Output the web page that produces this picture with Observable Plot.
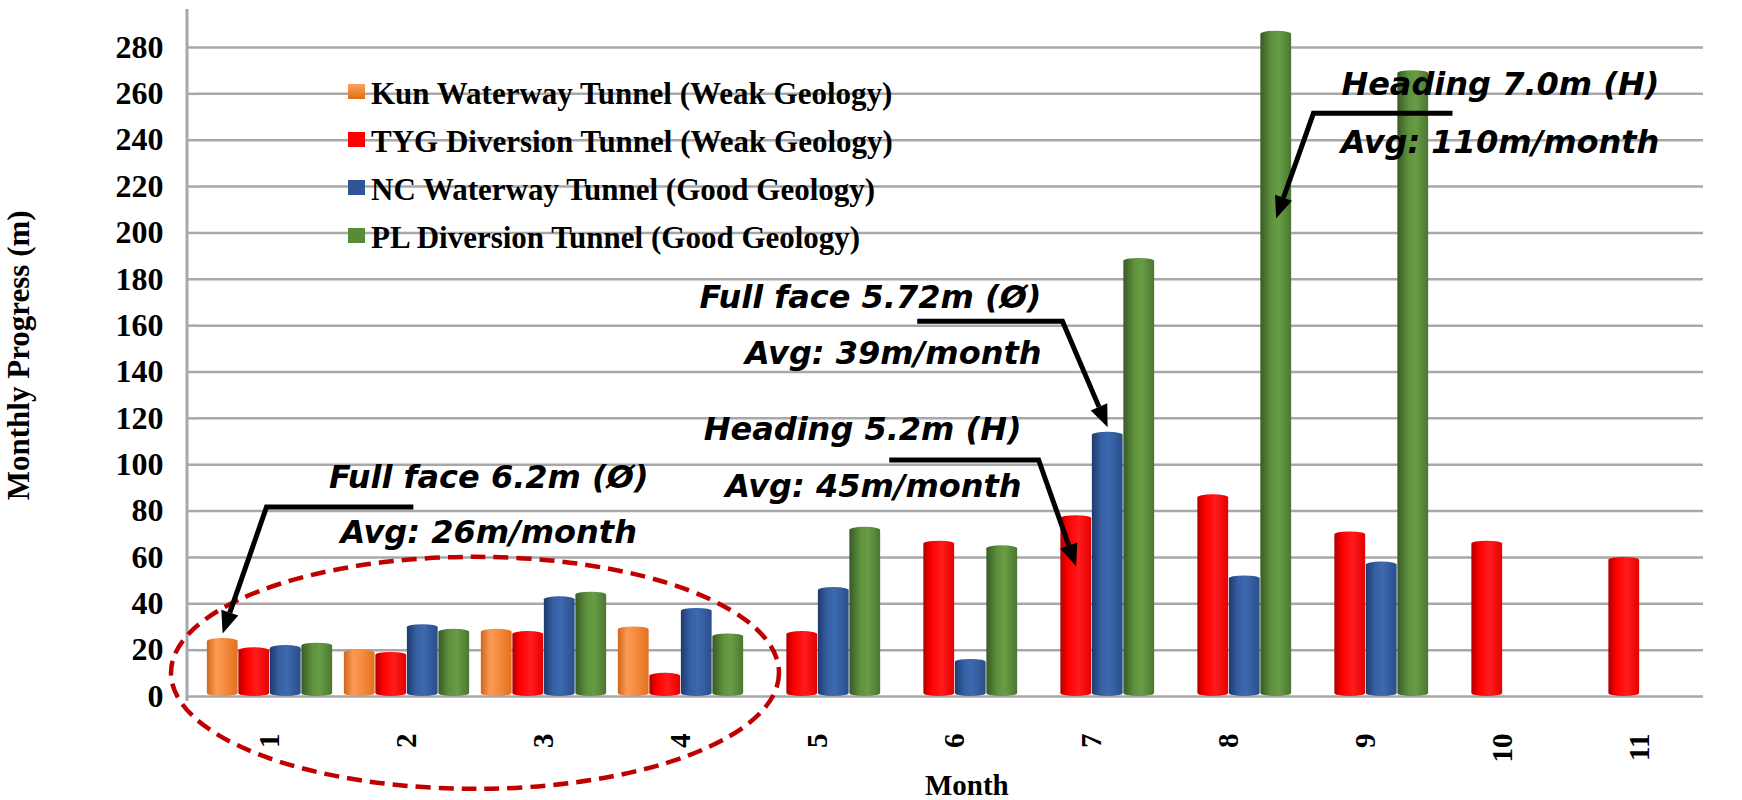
<!DOCTYPE html>
<html>
<head>
<meta charset="utf-8">
<script src="https://cdn.jsdelivr.net/npm/d3@7"></script>
<script src="https://cdn.jsdelivr.net/npm/@observablehq/plot@0.6"></script>
<style>
  html, body { margin: 0; padding: 0; background: #fff; }
  svg { display: block; }
</style>
</head>
<body>
<div id="chart"></div>
<script>
// ---------------- DATA ----------------
const months = [1, 2, 3, 4, 5, 6, 7, 8, 9, 10, 11];
const seriesNames = [
  "Kun Waterway Tunnel (Weak Geology)",
  "TYG Diversion Tunnel (Weak Geology)",
  "NC Waterway Tunnel (Good Geology)",
  "PL Diversion Tunnel (Good Geology)"
];
const kunValues = [25, 20, 29, 30, null, null, null, null, null, null, null];
const tygValues = [21, 19, 28, 10, 28, 67, 78, 87, 71, 67, 60];
const ncValues  = [22, 31, 43, 38, 47, 16, 114, 52, 58, null, null];
const plValues  = [23, 29, 45, 27, 73, 65, 189, 287, 270, null, null];
const yTicks = [0, 20, 40, 60, 80, 100, 120, 140, 160, 180, 200, 220, 240, 260, 280];
const xTitle = "Month";
const yTitle = "Monthly Progress (m)";

// annotations: text lines, the bar they point at, and anchor values (data units)
const annoLine1 = ["Full face 6.2m (Ø)", "Full face 5.72m (Ø)", "Heading 5.2m (H)", "Heading 7.0m (H)"];
const annoLine2 = ["Avg: 26m/month", "Avg: 39m/month", "Avg: 45m/month", "Avg: 110m/month"];
const annoTargetMonth = [1, 7, 7, 8];
const annoTargetSeries = [0, 2, 1, 3];
const annoTipValue = [27, 116, 56, 206];
const annoTextMonth = [2.60, 6.635, 6.49, 11.145];
const annoLine1Value = [89.7, 167.3, 110.4, 259.2];
const annoLine2Value = [66, 143.2, 85.8, 234.2];
const annoElbowMonth = [0.978, 6.788, 6.614, 8.62];
const annoLeaderEndMonth = [2.05, 5.728, 5.524, 9.635];
const annoLeaderValue = [81.5, 161.7, 101.8, 251.4];
const circledMonths = [1, 4];

// ---------------- STYLE ----------------
const seriesSwatch = ["#F58A3A", "#FF0000", "#2F5597", "#568B38"];
const seriesGradients = [
  [["0%", "#D2661C"], ["30%", "#FA9A55"], ["60%", "#F68B3E"], ["100%", "#E0711F"]],
  [["0%", "#B00000"], ["25%", "#FF0000"], ["60%", "#FF1C1C"], ["100%", "#E60000"]],
  [["0%", "#1E3A6C"], ["30%", "#3660A4"], ["55%", "#3D69AF"], ["100%", "#2A4E8B"]],
  [["0%", "#385A25"], ["35%", "#5D913C"], ["60%", "#689D46"], ["100%", "#4B7631"]]
];
const W = 1742, H = 800, ML = 197, MR = 30, MT = 47, MB = 104;
const serif = "'Liberation Serif', 'Times New Roman', serif";
const sans = "'DejaVu Sans', Verdana, sans-serif";

// ---------------- BUILD ----------------
const seriesValues = [kunValues, tygValues, ncValues, plValues];
const rows = [];
seriesValues.forEach((vals, i) => vals.forEach((v, j) => {
  if (v != null) rows.push({month: months[j], series: seriesNames[i], value: v});
}));

const step = (W - ML - MR) / months.length;
const groupW = step * 0.915;
const barW = groupW / seriesNames.length;
const pad0 = (step - groupW) / 2;

const chart = Plot.plot({
  width: W,
  height: H,
  marginLeft: ML,
  marginRight: MR,
  marginTop: MT,
  marginBottom: MB,
  style: {fontFamily: serif, background: "#fff", overflow: "visible"},
  x: {type: "band", domain: months, padding: 0, label: null},
  y: {domain: [0, 280], label: null},
  marks: [
    Plot.gridY(yTicks, {stroke: "#a8a8a8", strokeOpacity: 1, strokeWidth: 2.5, insetRight: 9}),
    ...seriesNames.map((name, i) => Plot.barY(rows.filter(d => d.series === name), {
      x: "month",
      y: "value",
      fill: `url(#grad${i})`,
      rx: barW / 2 - 1,
      ry: 3,
      insetLeft: pad0 + i * barW,
      insetRight: step - pad0 - (i + 1) * barW
    })),
    Plot.axisY(yTicks, {
      tickSize: 10, tickPadding: 24, stroke: "#a8a8a8", strokeWidth: 2.5,
      fontSize: 32, fontWeight: "bold", fill: "#000", label: null
    }),
    Plot.axisX({
      tickRotate: -90, tickSize: 0, tickPadding: 37,
      fontSize: 29, fontWeight: "bold", fill: "#000", label: null
    })
  ]
});

document.getElementById("chart").appendChild(chart);

const svg = d3.select(chart);
const xs = chart.scale("x");
const ys = chart.scale("y");
const bw = xs.bandwidth;
const xMonth = m => xs.apply(1) + bw / 2 + (m - 1) * bw;
const barCenter = (m, i) => xs.apply(m) + pad0 + (i + 0.5) * barW;

// gradients
const defs = svg.insert("defs", ":first-child");
seriesGradients.forEach((stops, i) => {
  const g = defs.append("linearGradient").attr("id", `grad${i}`)
    .attr("x1", "0").attr("x2", "1").attr("y1", "0").attr("y2", "0");
  stops.forEach(([o, c]) => g.append("stop").attr("offset", o).attr("stop-color", c));
});
const sw = defs.append("linearGradient").attr("id", "swatch0")
  .attr("x1", "0").attr("x2", "0").attr("y1", "0").attr("y2", "1");
sw.append("stop").attr("offset", "0%").attr("stop-color", "#F7A264");
sw.append("stop").attr("offset", "100%").attr("stop-color", "#E46C0A");

const over = svg.append("g").attr("text-anchor", "start");

// y axis line
over.append("line")
  .attr("x1", ML - 10).attr("x2", ML - 10)
  .attr("y1", ys.apply(280) - 38).attr("y2", ys.apply(0) + 5)
  .attr("stroke", "#a8a8a8").attr("stroke-width", 3);

// axis titles
over.append("text")
  .attr("transform", `translate(29, ${ys.apply(147)}) rotate(-90)`)
  .attr("text-anchor", "middle")
  .attr("font-family", serif).attr("font-weight", "bold").attr("font-size", 31)
  .text(yTitle);
over.append("text")
  .attr("x", xMonth(6.09)).attr("y", H - 5)
  .attr("text-anchor", "middle")
  .attr("font-family", serif).attr("font-weight", "bold").attr("font-size", 29)
  .text(xTitle);

// legend
const legend = over.append("g");
seriesNames.forEach((name, i) => {
  const base = 104 + i * 48;
  legend.append("rect")
    .attr("x", 348).attr("y", base - 20).attr("width", 17).attr("height", 15)
    .attr("fill", i === 0 ? "url(#swatch0)" : seriesSwatch[i]);
  legend.append("text")
    .attr("x", 371).attr("y", base)
    .attr("text-anchor", "start")
    .attr("font-family", serif).attr("font-weight", "bold").attr("font-size", 31)
    .attr("fill", "#000")
    .text(name);
});

// dashed ellipse around the first months
const ex0 = xs.apply(circledMonths[0]);
const ex1 = xs.apply(circledMonths[1]) + bw;
over.append("ellipse")
  .attr("cx", (ex0 + ex1) / 2).attr("cy", ys.apply(10))
  .attr("rx", (ex1 - ex0) / 2 + 30).attr("ry", 116)
  .attr("fill", "none").attr("stroke", "#C00000")
  .attr("stroke-width", 4.5).attr("stroke-dasharray", "15,8");

// annotations
annoLine1.forEach((t1, k) => {
  const tipX = barCenter(annoTargetMonth[k], annoTargetSeries[k]);
  const tipY = ys.apply(annoTipValue[k]);
  const elX = xMonth(annoElbowMonth[k]);
  const endX = xMonth(annoLeaderEndMonth[k]);
  const legY = ys.apply(annoLeaderValue[k]);
  const dx = tipX - elX, dy = tipY - legY, len = Math.hypot(dx, dy);
  const ux = dx / len, uy = dy / len;
  const headL = 22, headW = 9;
  const bx = tipX - ux * headL, by = tipY - uy * headL;
  over.append("path")
    .attr("d", `M${endX},${legY}L${elX},${legY}L${bx},${by}`)
    .attr("fill", "none").attr("stroke", "#000").attr("stroke-width", 5)
    .attr("stroke-linejoin", "miter");
  over.append("path")
    .attr("d", `M${tipX},${tipY}L${bx - uy * headW},${by + ux * headW}L${bx + uy * headW},${by - ux * headW}Z`)
    .attr("fill", "#000");
  const anchor = k === 0 ? "middle" : "end";
  [[t1, annoLine1Value[k]], [annoLine2[k], annoLine2Value[k]]].forEach(([t, v]) => {
    over.append("text")
      .attr("x", xMonth(annoTextMonth[k])).attr("y", ys.apply(v))
      .attr("text-anchor", anchor)
      .attr("font-family", sans).attr("font-weight", "bold").attr("font-style", "italic")
      .attr("font-size", 32).attr("fill", "#000")
      .text(t);
  });
});
</script>
</body>
</html>
